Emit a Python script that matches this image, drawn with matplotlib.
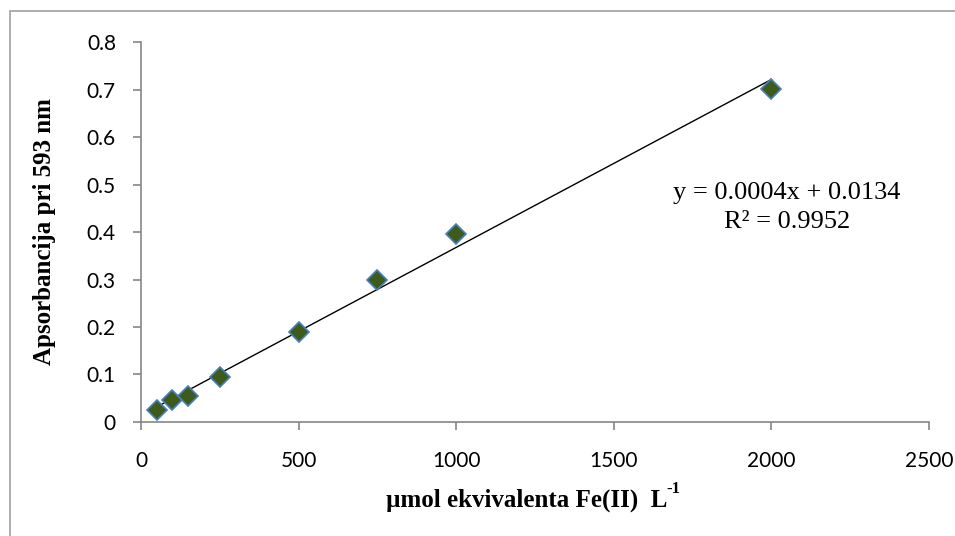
import numpy as np
import matplotlib
matplotlib.use('Agg')
import matplotlib.pyplot as plt

# FRAP calibration data
conc = [50, 100, 150, 250, 500, 750, 1000, 2000]
absorb = [0.025, 0.047, 0.055, 0.095, 0.190, 0.300, 0.395, 0.702]
x_ticks = [0, 500, 1000, 1500, 2000, 2500]
y_ticks = [0, 0.1, 0.2, 0.3, 0.4, 0.5, 0.6, 0.7, 0.8]
y_tick_labels = ['0', '0.1', '0.2', '0.3', '0.4', '0.5', '0.6', '0.7', '0.8']
eq_text = 'y = 0.0004x + 0.0134'
r2_text = 'R² = 0.9952'

axis_gray = '#868686'

fig = plt.figure(figsize=(9.55, 5.36), dpi=100)
ax = fig.add_axes([0.1476, 0.2127, 0.8252, 0.7089])

# linear trendline
k, n = np.polyfit(conc, absorb, 1)
xl = np.array([min(conc), max(conc)])
ax.plot(xl, k * xl + n, color='black', lw=1.0, zorder=2)

ax.plot(conc, absorb, linestyle='none', marker='D', markersize=10,
        markerfacecolor='#3d5b1b', markeredgecolor='#4a7ebb',
        markeredgewidth=1.2, zorder=3)

ax.set_xlim(0, 2500)
ax.set_ylim(0, 0.8)
ax.set_xticks(x_ticks)
ax.set_yticks(y_ticks)
ax.set_xticklabels([str(v) for v in x_ticks], fontfamily='Lato', fontsize=15)
ax.set_yticklabels(y_tick_labels, fontfamily='Lato', fontsize=15)

for s in ['top', 'right']:
    ax.spines[s].set_visible(False)
for s in ['left', 'bottom']:
    ax.spines[s].set_color(axis_gray)
    ax.spines[s].set_linewidth(1.2)
ax.tick_params(axis='both', direction='out', length=6, width=1.2,
               color=axis_gray, pad=12)
ax.tick_params(axis='x', pad=15)

ax.set_xlabel('µmol ekvivalenta Fe(II)  L',
              fontfamily='Liberation Serif', fontweight='bold', fontsize=18)
ax.xaxis.set_label_coords((527 - 141) / 788, (422 - 500) / 380)
ax.set_ylabel('Apsorbancija pri 593 nm', fontfamily='Liberation Serif',
              fontweight='bold', fontsize=18)
ax.yaxis.set_label_coords((45 - 141) / 788, (422 - 232) / 380)
ax.xaxis.label.set_va('center')
ax.yaxis.label.set_va('center')

# small superscript after the unit
ax.annotate('-1', xy=(1.0, 0.62), xycoords=ax.xaxis.label,
            xytext=(-1, 0), textcoords='offset points', va='bottom',
            ha='left', fontfamily='Liberation Serif', fontweight='bold',
            fontsize=12)

ax.text(0.82, 0.603, eq_text, transform=ax.transAxes, ha='center',
        va='center', fontfamily='Liberation Serif', fontsize=19)
ax.text(0.82, 0.526, r2_text, transform=ax.transAxes, ha='center',
        va='center', fontfamily='Liberation Serif', fontsize=19)

# chart area border
border = plt.Rectangle((10 / 955, -0.05), 1.1, 1 - 11 / 536 + 0.05,
                       transform=fig.transFigure, fill=False,
                       edgecolor='#a0a0a0', lw=1.2)
fig.patches.append(border)

fig.savefig('out.png', dpi=100)
